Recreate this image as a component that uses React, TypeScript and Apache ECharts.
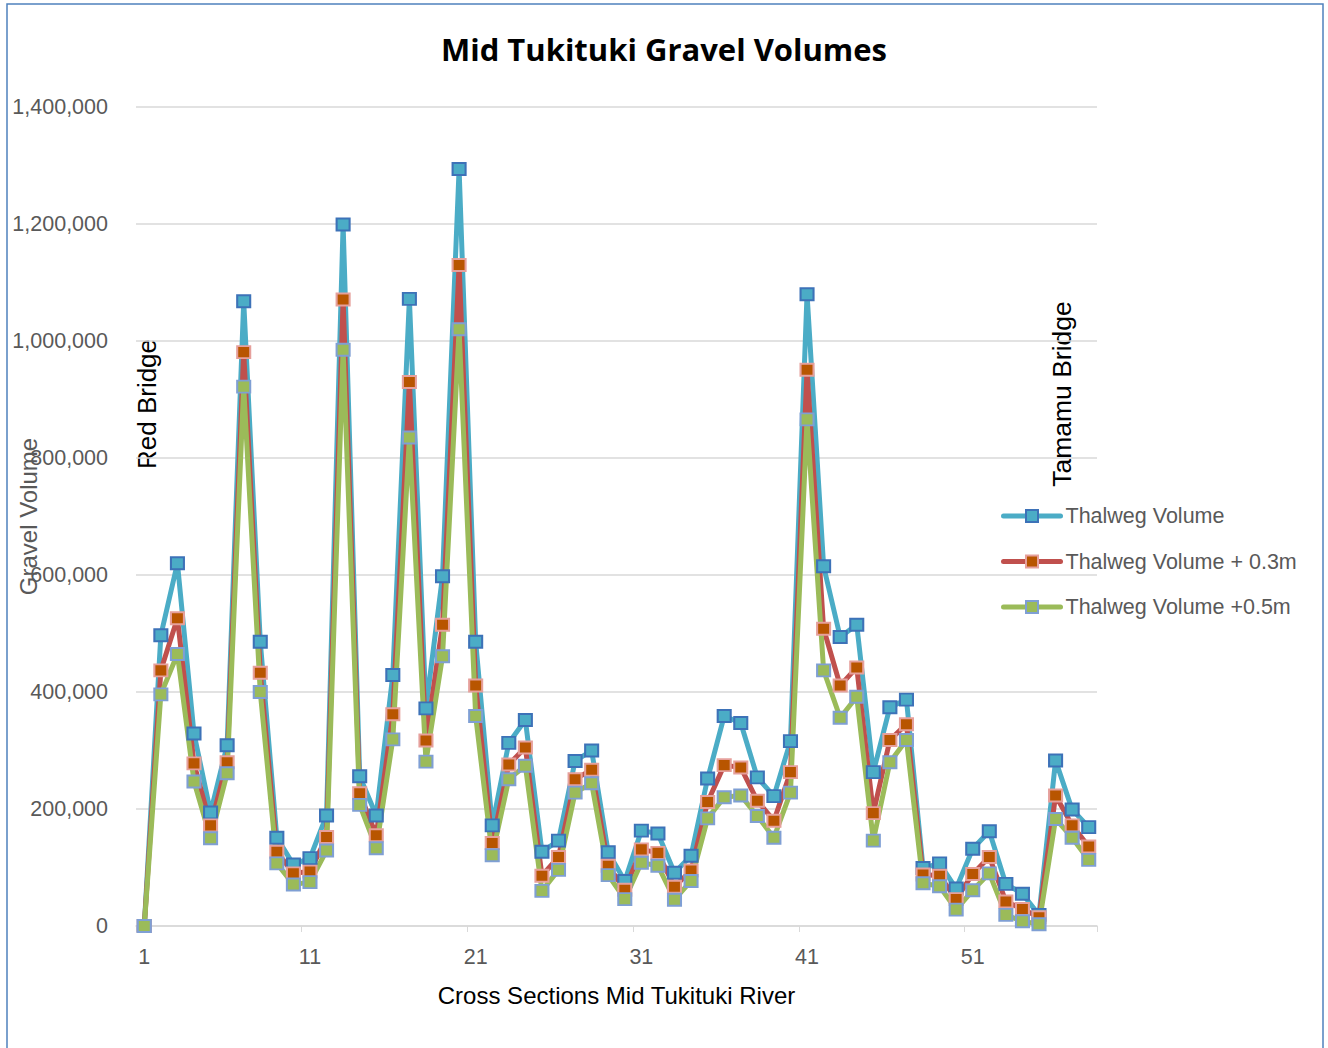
import React, { useEffect, useRef } from "react";
import * as echarts from "echarts";

const categories = [
  "1", "2", "3", "4", "5", "6", "7", "8", "9", "10",
  "11", "12", "13", "14", "15", "16", "17", "18", "19", "20",
  "21", "22", "23", "24", "25", "26", "27", "28", "29", "30",
  "31", "32", "33", "34", "35", "36", "37", "38", "39", "40",
  "41", "42", "43", "44", "45", "46", "47", "48", "49", "50",
  "51", "52", "53", "54", "55", "56", "57", "58",
];

const thalweg = [
  0, 497000, 620000, 329000, 194000, 309000, 1068000, 486000, 151000, 105000,
  116000, 189000, 1199000, 256000, 189000, 429000, 1072000, 372000, 598000, 1294000,
  486000, 172000, 313000, 352000, 127000, 146000, 282000, 300000, 126000, 77000,
  163000, 158000, 91000, 120000, 252000, 359000, 347000, 254000, 222000, 316000,
  1080000, 615000, 494000, 515000, 263000, 374000, 387000, 99000, 107000, 64000,
  132000, 162000, 72000, 55000, 19000, 283000, 199000, 169000,
];

const thalweg03 = [
  0, 437000, 526000, 278000, 172000, 280000, 981000, 433000, 127000, 90000,
  93000, 152000, 1071000, 227000, 155000, 362000, 930000, 317000, 515000, 1130000,
  411000, 142000, 276000, 305000, 86000, 118000, 251000, 267000, 103000, 62000,
  131000, 125000, 67000, 95000, 212000, 275000, 271000, 214000, 180000, 263000,
  951000, 508000, 411000, 442000, 193000, 318000, 345000, 88000, 86000, 46000,
  89000, 118000, 42000, 29000, 15000, 223000, 172000, 136000,
];

const thalweg05 = [
  0, 396000, 465000, 247000, 150000, 261000, 922000, 400000, 107000, 71000,
  75000, 129000, 985000, 207000, 133000, 319000, 835000, 281000, 461000, 1020000,
  359000, 121000, 251000, 274000, 60000, 96000, 228000, 244000, 87000, 46000,
  108000, 103000, 45000, 77000, 184000, 220000, 223000, 188000, 151000, 228000,
  866000, 437000, 356000, 392000, 146000, 280000, 318000, 73000, 68000, 28000,
  61000, 90000, 19000, 8000, 3000, 183000, 151000, 113000,
];

const seriesNames = ["Thalweg Volume", "Thalweg Volume + 0.3m", "Thalweg Volume +0.5m"];
const annotations = ["Red Bridge", "Tamamu Bridge"];
const chartTitle = "Mid Tukituki Gravel Volumes";
const xAxisTitle = "Cross Sections Mid Tukituki River";
const yAxisTitle = "Gravel Volume";

const FONT = "'Liberation Sans', Arial, sans-serif";
const TITLE_FONT = "'Open Sans', 'Noto Sans', sans-serif";

export default function App() {
  const ref = useRef<HTMLDivElement>(null);
  useEffect(() => {
    if (!ref.current) return;
    const chart = echarts.init(ref.current, undefined, { renderer: "svg" });
    const mk = (name: string, data: number[], line: string, fill: string, border: string) => ({
      name,
      type: "line",
      data,
      symbol: "rect",
      symbolSize: [13, 12],
      showSymbol: true,
      showAllSymbol: true,
      lineStyle: { color: line, width: 5, join: "round", cap: "round" },
      itemStyle: { color: fill, borderColor: border, borderWidth: 2 },
      emphasis: { disabled: true },
    });
    chart.setOption({
      animation: false,
      backgroundColor: "#ffffff",
      textStyle: { fontFamily: FONT },
      title: {
        text: chartTitle,
        left: "center",
        top: 28,
        textStyle: { fontSize: 31, fontWeight: "bold", color: "#000000", fontFamily: TITLE_FONT },
      },
      grid: {
        left: 136,
        right: 231,
        top: 107,
        bottom: 122,
        containLabel: false,
        outerBoundsMode: "none",
      },
      legend: {
        orient: "vertical",
        left: 996,
        top: 500,
        itemWidth: 57,
        itemHeight: 15,
        itemGap: 23.5,
        lineStyle: { width: 5, cap: "round" },
        textStyle: { fontSize: 21.5, color: "#595959", fontFamily: FONT },
        data: seriesNames,
      },
      xAxis: {
        type: "category",
        data: categories,
        boundaryGap: true,
        name: xAxisTitle,
        nameLocation: "middle",
        nameGap: 57,
        nameMoveOverlap: false,
        nameTextStyle: { fontSize: 24, color: "#000000", fontFamily: FONT },
        axisLine: { lineStyle: { color: "#d9d9d9", width: 1.5 } },
        axisTick: { show: true, interval: 9, length: 6, lineStyle: { color: "#d9d9d9" } },
        axisLabel: { interval: 9, fontSize: 21.5, color: "#595959", margin: 20, fontFamily: FONT },
      },
      yAxis: {
        type: "value",
        min: 0,
        max: 1400000,
        interval: 200000,
        name: yAxisTitle,
        nameLocation: "middle",
        nameRotate: 90,
        nameGap: 96,
        nameMoveOverlap: false,
        nameTextStyle: { fontSize: 24, color: "#595959", fontFamily: FONT },
        axisLine: { show: false },
        axisTick: { show: false },
        splitLine: { lineStyle: { color: "#d9d9d9", width: 1.5 } },
        axisLabel: {
          fontSize: 21.5,
          color: "#595959",
          margin: 28,
          fontFamily: FONT,
          formatter: (v: number) => v.toLocaleString("en-US"),
        },
      },
      graphic: [
        {
          type: "rect",
          shape: { x: 7, y: 4, width: 1316, height: 1100 },
          style: { fill: "none", stroke: "#4f81bd", lineWidth: 1.5 },
          silent: true,
        },
        {
          type: "text",
          x: 147,
          y: 404,
          rotation: Math.PI / 2,
          style: {
            text: annotations[0],
            fontSize: 26,
            fill: "#000000",
            align: "center",
            verticalAlign: "middle",
            fontFamily: FONT,
          },
        },
        {
          type: "text",
          x: 1062,
          y: 394,
          rotation: Math.PI / 2,
          style: {
            text: annotations[1],
            fontSize: 26.5,
            fill: "#000000",
            align: "center",
            verticalAlign: "middle",
            fontFamily: FONT,
          },
        },
      ],
      series: [
        mk(seriesNames[0], thalweg, "#4bacc6", "#4bacc6", "#3d72b8"),
        mk(seriesNames[1], thalweg03, "#c0504d", "#b85500", "#e6a09c"),
        mk(seriesNames[2], thalweg05, "#9bbb59", "#9bbb59", "#7f9fd4"),
      ],
    });
    return () => chart.dispose();
  }, []);
  return (
    <div
      ref={ref}
      style={{ position: "absolute", left: 0, top: 0, width: 1328, height: 1048 }}
    />
  );
}
